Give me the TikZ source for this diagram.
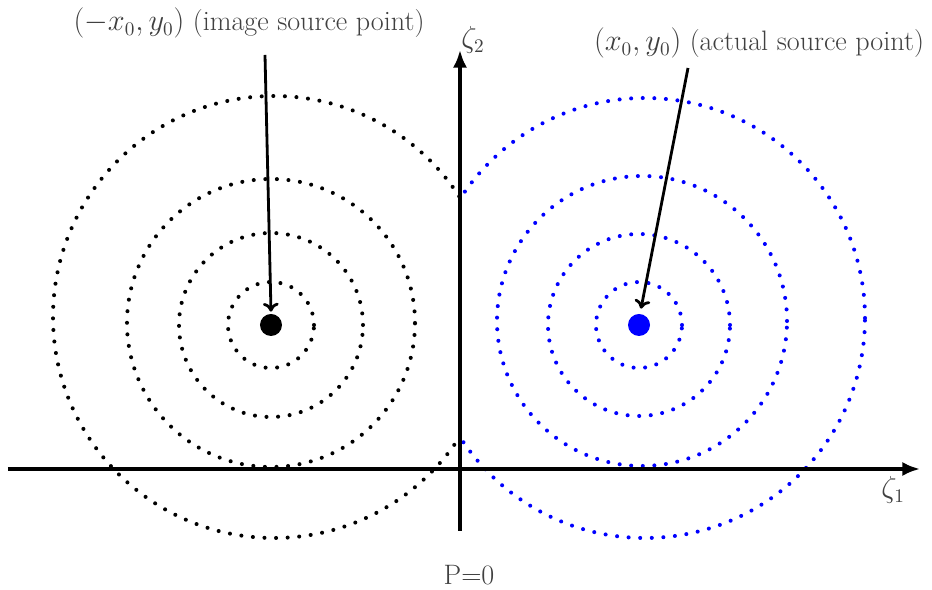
\documentclass[tikz,border=0pt]{standalone}
\usetikzlibrary{positioning,arrows.meta}
\definecolor{txtgray}{gray}{0.25}
\begin{document}
\begin{tikzpicture}[x=0.02cm,y=0.02cm,font=\fontsize{16}{19}\selectfont,
  ring/.style={line width=2.3pt,line cap=round,dash pattern=on 0pt off 6.6pt},
  ptr/.style={-{To[length=5pt,width=9pt]},line width=1.6pt},
  axis/.style={-{Latex[length=10pt,width=8pt]},line width=2.2pt},
  lab/.style={text=txtgray,inner sep=1pt}]
  % Coordinates in pixels of the sketch, origin where the two axes cross.
  \useasboundingbox (-460,-121) rectangle (472,469);
  \begin{scope}
    \clip (-460,-121) rectangle (0,469);
    \foreach \r/\dx/\dy in {43/0/0,92/0/0,144/0/2,221/3/8}{\draw[ring] (-189+\dx,144+\dy) circle (\r);}
  \end{scope}
  \begin{scope}
    \clip (0,-121) rectangle (472,469);
    \foreach \r/\dx/\dy in {43/0/0,91/0/0,145/3/4,220/6/7}{\draw[ring,blue] (179+\dx,144+\dy) circle (\r);}
  \end{scope}
  \coordinate (xl) at (-452,0);
  \coordinate (xr) at (460,0);
  \coordinate (yb) at (0,-62);
  \coordinate (yt) at (0,419);
  \draw[axis] (xl) -- (xr);
  \draw[axis] (yb) -- (yt);
  \node[lab] (zeta1) at (433,-21) {$\zeta_1$};
  \node[lab] (zeta2) at (13,429) {$\zeta_2$};
  \node[lab] (pzero) at (9,-106) {P=0};
  \node[circle,fill=black,inner sep=0pt,minimum size=22*0.02cm] (img) at (-189,144) {};
  \node[circle,fill=blue,inner sep=0pt,minimum size=22*0.02cm] (src) at (179,144) {};
  \node[lab] (imglab) at (-211,446) {$(-x_0, y_0)$ (image source point)};
  \node[lab] (srclab) at (299,426) {$(x_0, y_0)$ (actual source point)};
  \coordinate (imgtail) at (-195,414);
  \coordinate (srctail) at (228,401);
  \draw[ptr] (imgtail) -- ([yshift=2*0.02cm]img.north);
  \draw[ptr] (srctail) -- ([yshift=5*0.02cm,xshift=2*0.02cm]src.north);
\end{tikzpicture}
\end{document}
